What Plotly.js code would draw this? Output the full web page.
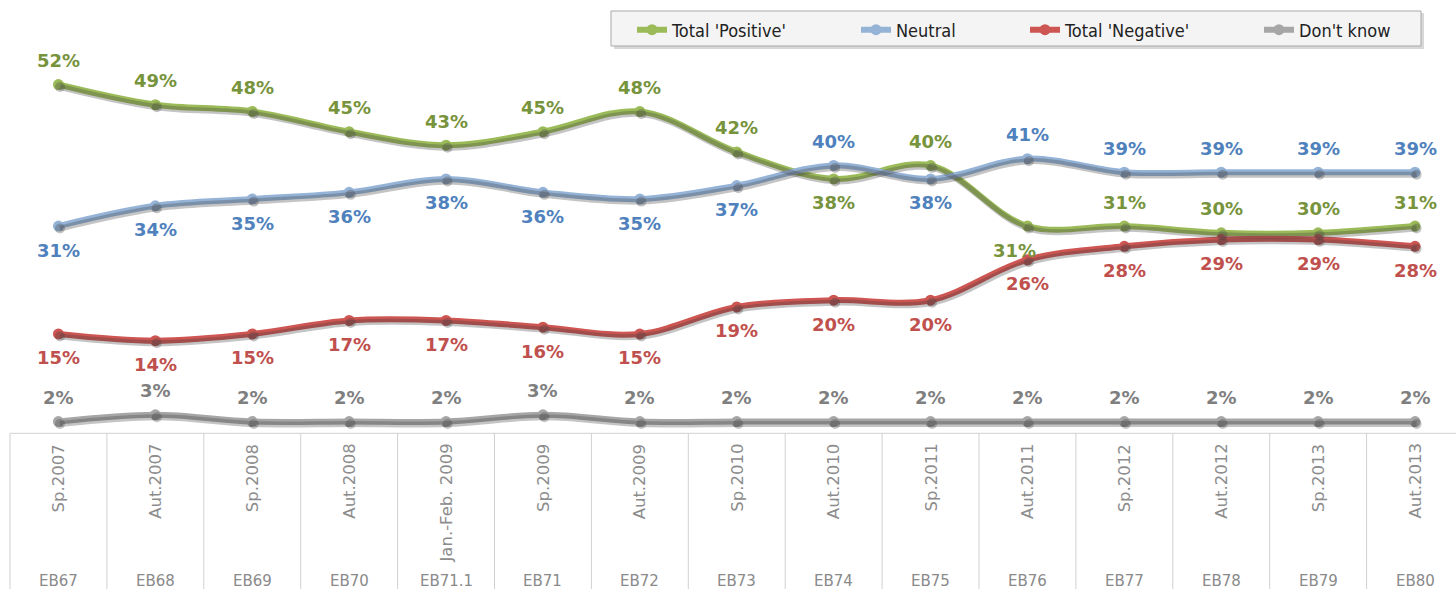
<!DOCTYPE html>
<html>
<head>
<meta charset="utf-8">
<script src="https://cdn.plot.ly/plotly-3.0.1.min.js"></script>
<style>
  html, body { margin: 0; padding: 0; background: #fff; }
  #chart { width: 1456px; height: 589px; }
</style>
</head>
<body>
<div id="chart"></div>
<script>
// survey waves
var periods = ['Sp.2007', 'Aut.2007', 'Sp.2008', 'Aut.2008', 'Jan.-Feb. 2009', 'Sp.2009', 'Aut.2009',
  'Sp.2010', 'Aut.2010', 'Sp.2011', 'Aut.2011', 'Sp.2012', 'Aut.2012', 'Sp.2013', 'Aut.2013'];
var waves = ['EB67', 'EB68', 'EB69', 'EB70', 'EB71.1', 'EB71', 'EB72', 'EB73', 'EB74', 'EB75',
  'EB76', 'EB77', 'EB78', 'EB79', 'EB80'];

var positive = [52, 49, 48, 45, 43, 45, 48, 42, 38, 40, 31, 31, 30, 30, 31];
var neutral  = [31, 34, 35, 36, 38, 36, 35, 37, 40, 38, 41, 39, 39, 39, 39];
var negative = [15, 14, 15, 17, 17, 16, 15, 19, 20, 20, 26, 28, 29, 29, 28];
var dontKnow = [2, 3, 2, 2, 2, 3, 2, 2, 2, 2, 2, 2, 2, 2, 2];

// 1 = label above the point, -1 = below
var posSide = [1, 1, 1, 1, 1, 1, 1, 1, -1, 1, -1, 1, 1, 1, 1];
var neuSide = [-1, -1, -1, -1, -1, -1, -1, -1, 1, -1, 1, 1, 1, 1, 1];
var negSide = [-1, -1, -1, -1, -1, -1, -1, -1, -1, -1, -1, -1, -1, -1, -1];
var dkSide  = [1, 1, 1, 1, 1, 1, 1, 1, 1, 1, 1, 1, 1, 1, 1];

var idx = periods.map(function (p, i) { return i; });

var series = [
  {name: "Total 'Positive'", y: positive, side: posSide, line: '#9bbb59', text: '#77933c', legend: 'legend', lx: 632},
  {name: 'Neutral', y: neutral, side: neuSide, line: '#95b3d7', text: '#4f81bd', legend: 'legend2', lx: 856},
  {name: "Total 'Negative'", y: negative, side: negSide, line: '#cd5552', text: '#c0504d', legend: 'legend3', lx: 1025},
  {name: "Don't know", y: dontKnow, side: dkSide, line: '#a6a6a6', text: '#7f7f7f', legend: 'legend4', lx: 1259}
];

var W = 1456, H = 589;
var catW = 96.9, left = 10;          // px per category, left edge of first category
var pxU = 6.74, zeroPx = 435;        // px per percent, pixel row of 0%
var xr = [-0.5 - left / catW, -0.5 + (W - left) / catW];
var yr = [-(H - zeroPx) / pxU, zeroPx / pxU];

var data = [];
// drop shadows, drawn on slightly shifted overlay axes
series.forEach(function (s) {
  data.push({
    x: idx, y: s.y, xaxis: 'x2', yaxis: 'y2',
    type: 'scatter', mode: 'lines+markers',
    line: {color: 'rgba(60,60,60,0.3)', width: 6, shape: 'spline'},
    marker: {color: 'rgba(60,60,60,0.3)', size: 10},
    showlegend: false, hoverinfo: 'skip'
  });
});
series.forEach(function (s) {
  data.push({
    x: idx, y: s.y, name: s.name, legend: s.legend,
    type: 'scatter', mode: 'lines+markers',
    line: {color: s.line, width: 6, shape: 'spline'},
    marker: {color: s.line, size: 11},
    hovertemplate: '%{y}%<extra>' + s.name + '</extra>'
  });
});

var annotations = [];
series.forEach(function (s) {
  s.y.forEach(function (v, i) {
    var xs = 0;
    if (s.y === positive && i === 10) xs = -13;
    annotations.push({
      x: i, y: v, xref: 'x', yref: 'y', text: v + '%', showarrow: false,
      yshift: 24 * s.side[i], xshift: xs,
      font: {family: 'DejaVu Sans', size: 18, weight: 'bold', color: s.text}
    });
  });
});
periods.forEach(function (p, i) {
  annotations.push({
    x: i, y: 0, xref: 'x', yref: 'y', text: p, showarrow: false,
    textangle: -90, yanchor: 'top', yshift: -7,
    font: {family: 'DejaVu Sans', size: 16.5, color: '#8c8c8c'}
  });
  annotations.push({
    x: i, y: 0, xref: 'x', yref: 'paper', text: waves[i], showarrow: false,
    yanchor: 'bottom', yshift: -3,
    font: {family: 'DejaVu Sans', size: 15, color: '#8a8a8a'}
  });
});

var shapes = [];
// legend frame
shapes.push({type: 'rect', xref: 'paper', yref: 'paper', layer: 'below',
  x0: 614 / W, x1: 1424 / W, y0: 1 - 49 / H, y1: 1 - 13 / H,
  fillcolor: '#d8d8d8', line: {width: 0}});
shapes.push({type: 'rect', xref: 'paper', yref: 'paper', layer: 'below',
  x0: 611 / W, x1: 1421 / W, y0: 1 - 46 / H, y1: 1 - 11 / H,
  fillcolor: '#f4f4f4', line: {color: '#a9a9a9', width: 1}});
// category box under the plot
shapes.push({type: 'line', xref: 'x', yref: 'y', x0: -0.5, x1: xr[1], y0: 0.25, y1: 0.25,
  line: {color: '#d0d0d0', width: 1}});
for (var i = 0; i <= periods.length; i++) {
  shapes.push({type: 'line', xref: 'x', yref: 'y', x0: i - 0.5, x1: i - 0.5, y0: yr[0], y1: 0.25,
    line: {color: '#d0d0d0', width: 1}});
}

var layout = {
  width: W, height: H,
  margin: {l: 0, r: 0, t: 0, b: 0},
  paper_bgcolor: '#ffffff', plot_bgcolor: '#ffffff',
  showlegend: true,
  xaxis: {range: xr, visible: false, fixedrange: true},
  yaxis: {range: yr, visible: false, fixedrange: true},
  xaxis2: {range: [xr[0] - 1.5 / catW, xr[1] - 1.5 / catW], overlaying: 'x', visible: false, fixedrange: true},
  yaxis2: {range: [yr[0] + 2.5 / pxU, yr[1] + 2.5 / pxU], overlaying: 'y', visible: false, fixedrange: true},
  annotations: annotations,
  shapes: shapes
};
series.forEach(function (s) {
  layout[s.legend] = {
    x: s.lx / W, y: 1 - 30 / H, xanchor: 'left', yanchor: 'middle',
    bgcolor: 'rgba(0,0,0,0)', borderwidth: 0,
    font: {family: 'DejaVu Sans Condensed', size: 18, color: '#222'}
  };
});

Plotly.newPlot('chart', data, layout, {displayModeBar: false, staticPlot: true});
</script>
</body>
</html>
